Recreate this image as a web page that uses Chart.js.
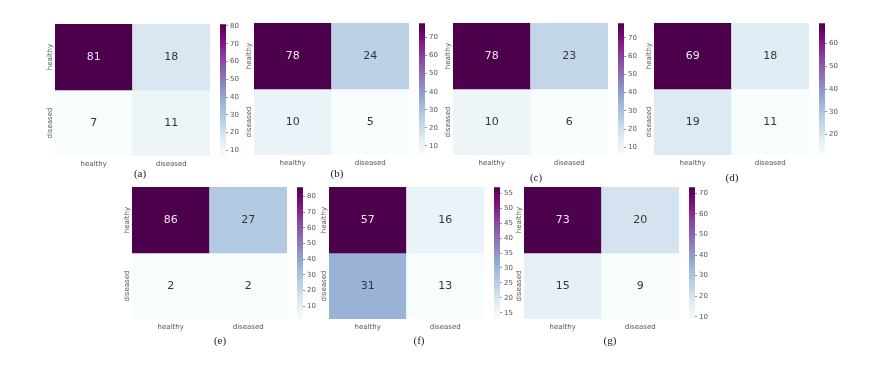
<!DOCTYPE html>
<html>
<head>
<meta charset="utf-8">
<script src="https://cdn.jsdelivr.net/npm/chart.js@4.4.1/dist/chart.umd.min.js"></script>
<style>
  body { margin: 0; background: #fff; }
  #fig { position: relative; width: 895px; height: 367px; overflow: hidden; background: #fff; }
  #fig canvas { position: absolute; }
  .cap { position: absolute; font-family: "Liberation Serif", serif; font-size: 11px; color: #222; transform: translate(-50%, -50%); white-space: nowrap; }
</style>
</head>
<body>
<div id="fig"></div>
<script>
const rowLabels = ['healthy', 'diseased'];
const colLabels = ['healthy', 'diseased'];
const captions = ['(a)', '(b)', '(c)', '(d)', '(e)', '(f)', '(g)'];

// confusion matrices (rows = true class, cols = predicted)
const cmA = [[81, 18], [7, 11]];
const cmB = [[78, 24], [10, 5]];
const cmC = [[78, 23], [10, 6]];
const cmD = [[69, 18], [19, 11]];
const cmE = [[86, 27], [2, 2]];
const cmF = [[57, 16], [31, 13]];
const cmG = [[73, 20], [15, 9]];
const matrices = [cmA, cmB, cmC, cmD, cmE, cmF, cmG];

// colorbar tick step for each panel
const cbSteps = [10, 10, 10, 10, 10, 5, 10];

// matplotlib BuPu
const bupu = ['#f7fcfd', '#e0ecf4', '#bfd3e6', '#9ebcda', '#8c96c6', '#8c6bb1', '#88419d', '#810f7c', '#4d004b'];

// heatmap box position on the page + caption position
const panelPos = [
    { left: 55, top: 24, capX: 140, capY: 173 },
    { left: 254, top: 23, capX: 337, capY: 173 },
    { left: 453, top: 23, capX: 536, capY: 177 },
    { left: 654, top: 23, capX: 732, capY: 177 },
    { left: 132, top: 187, capX: 220, capY: 340 },
    { left: 329, top: 187, capX: 419, capY: 340 },
    { left: 524, top: 187, capX: 610, capY: 340 }
];
const boxW = 155, boxH = 132;
const fig = document.getElementById('fig');

function hexToRgb(h) {
    return [parseInt(h.slice(1, 3), 16), parseInt(h.slice(3, 5), 16), parseInt(h.slice(5, 7), 16)];
}

function bupuColor(t) {
    t = Math.max(0, Math.min(1, t));
    const pos = t * (bupu.length - 1);
    const i = Math.min(Math.floor(pos), bupu.length - 2);
    const f = pos - i;
    const a = hexToRgb(bupu[i]), b = hexToRgb(bupu[i + 1]);
    return a.map((v, k) => Math.round(v + (b[k] - v) * f));
}

// same rule seaborn uses to pick the annotation colour
function luminance(rgb) {
    const c = rgb.map(v => {
        v = v / 255;
        return v <= 0.03928 ? v / 12.92 : Math.pow((v + 0.055) / 1.055, 2.4);
    });
    return 0.2126 * c[0] + 0.7152 * c[1] + 0.0722 * c[2];
}

const cellText = {
    id: 'cellText',
    afterDatasetsDraw(chart) {
        const ctx = chart.ctx;
        ctx.save();
        ctx.textAlign = 'center';
        ctx.textBaseline = 'middle';
        ctx.font = '11px "DejaVu Sans"';
        chart.data.datasets.forEach((ds, i) => {
            chart.getDatasetMeta(i).data.forEach((bar, j) => {
                ctx.fillStyle = luminance(ds.cellRgb[j]) > 0.408 ? '#363636' : '#f1e4ef';
                ctx.fillText(ds.values[j], bar.x, (bar.y + bar.base) / 2);
            });
        });
        // row labels, rotated
        const ys = chart.scales.y;
        ctx.font = '7px "DejaVu Sans"';
        ctx.fillStyle = '#555';
        rowLabels.forEach((r, i) => {
            ctx.save();
            ctx.translate(chart.chartArea.left - 5, ys.getPixelForValue(i + 0.5));
            ctx.rotate(-Math.PI / 2);
            ctx.fillText(r, 0, 0);
            ctx.restore();
        });
        ctx.restore();
    }
};

function drawHeatmap(idx) {
    const cm = matrices[idx];
    const p = panelPos[idx];
    const flat = cm.flat();
    const vmin = Math.min(...flat), vmax = Math.max(...flat);

    const canvas = document.createElement('canvas');
    canvas.width = boxW + 14;
    canvas.height = boxH + 15;
    canvas.style.left = (p.left - 14) + 'px';
    canvas.style.top = p.top + 'px';
    fig.appendChild(canvas);

    new Chart(canvas, {
        type: 'bar',
        data: {
            labels: colLabels,
            datasets: rowLabels.map((r, i) => {
                const rgbs = cm[i].map(v => bupuColor((v - vmin) / (vmax - vmin)));
                return {
                    label: r,
                    data: cm[i].map(() => [i, i + 1]),
                    values: cm[i],
                    cellRgb: rgbs,
                    backgroundColor: rgbs.map(c => `rgb(${c[0]}, ${c[1]}, ${c[2]})`),
                    borderWidth: 0,
                    barPercentage: 1,
                    categoryPercentage: 1,
                    grouped: false
                };
            })
        },
        options: {
            responsive: false,
            animation: false,
            devicePixelRatio: 1,
            layout: { padding: { left: 14 } },
            plugins: { legend: { display: false }, tooltip: { enabled: false } },
            scales: {
                x: {
                    grid: { display: false, drawTicks: false },
                    border: { display: false },
                    ticks: { color: '#555', font: { family: 'DejaVu Sans', size: 7 }, padding: 4, maxRotation: 0 },
                    afterFit: s => { s.height = 15; }
                },
                y: { display: false, reverse: true, min: 0, max: 2 }
            }
        },
        plugins: [cellText]
    });

    drawColorbar(idx, vmin, vmax);

    const cap = document.createElement('div');
    cap.className = 'cap';
    cap.textContent = captions[idx];
    cap.style.left = p.capX + 'px';
    cap.style.top = p.capY + 'px';
    fig.appendChild(cap);
}

function drawColorbar(idx, vmin, vmax) {
    const p = panelPos[idx];
    const step = cbSteps[idx];
    const canvas = document.createElement('canvas');
    canvas.width = 6 + 22;
    canvas.height = boxH + 12;
    canvas.style.left = (p.left + 165) + 'px';
    canvas.style.top = (p.top - 6) + 'px';
    fig.appendChild(canvas);

    new Chart(canvas, {
        type: 'bar',
        data: {
            labels: [''],
            datasets: [{
                data: [[vmin, vmax]],
                backgroundColor: function (context) {
                    const area = context.chart.chartArea;
                    if (!area) return bupu[4];
                    const g = context.chart.ctx.createLinearGradient(0, area.bottom, 0, area.top);
                    bupu.forEach((c, k) => g.addColorStop(k / (bupu.length - 1), c));
                    return g;
                },
                borderWidth: 0,
                barPercentage: 1,
                categoryPercentage: 1
            }]
        },
        options: {
            responsive: false,
            animation: false,
            devicePixelRatio: 1,
            layout: { padding: { top: 6, bottom: 6 } },
            plugins: { legend: { display: false }, tooltip: { enabled: false } },
            scales: {
                x: { display: false },
                y: {
                    position: 'right',
                    min: vmin,
                    max: vmax,
                    grid: { drawOnChartArea: false, tickLength: 2, color: '#777', lineWidth: 0.8 },
                    border: { display: false },
                    ticks: { stepSize: step, includeBounds: false, autoSkip: false, color: '#555', font: { family: 'DejaVu Sans', size: 7 }, padding: 2 },
                    afterBuildTicks: s => { s.ticks = s.ticks.filter(t => t.value % step === 0); },
                    afterFit: s => { s.width = 22; }
                }
            }
        }
    });
}

matrices.forEach((cm, i) => drawHeatmap(i));
</script>
</body>
</html>
